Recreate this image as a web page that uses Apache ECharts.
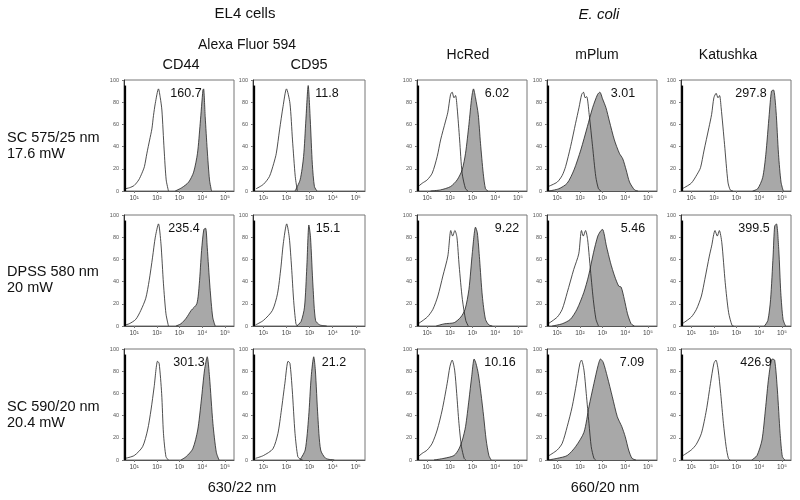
<!DOCTYPE html>
<html><head><meta charset="utf-8">
<script src="https://cdn.jsdelivr.net/npm/echarts@6/dist/echarts.min.js"></script>
<style>html,body{margin:0;padding:0;background:#fff}#c{width:800px;height:500px}</style>
</head><body><div id="c"></div>
<script>
// ---------- labels ----------
const groupTitles = ['EL4 cells', 'E. coli'];
const subTitle = 'Alexa Fluor 594';
const colLabels = ['CD44', 'CD95', 'HcRed', 'mPlum', 'Katushka'];
const rowLabels = [['SC 575/25 nm', '17.6 mW'], ['DPSS 580 nm', '20 mW'], ['SC 590/20 nm', '20.4 mW']];
const bottomLabels = ['630/22 nm', '660/20 nm'];
const mfiLabels = [
  ['160.7', '11.8', '6.02', '3.01', '297.8'],
  ['235.4', '15.1', '9.22', '5.46', '399.5'],
  ['301.3', '21.2', '10.16', '7.09', '426.9']
];
const xTickExponents = [1, 2, 3, 4, 5];
const yTickValues = [0, 20, 40, 60, 80, 100];
const pileHeight = 95; // events piled on the first channel

// ---------- histograms: [log10 intensity, % of max] ----------
// row 1: SC 575/25 nm
const open_r1_CD44 = [[0.6,2],[0.8,3],[1.0,5],[1.2,10],[1.34,16],[1.45,22],[1.56,34],[1.68,46],[1.78,56],[1.85,68],[1.93,79],[2.07,92],[2.15,84],[2.22,73],[2.32,37],[2.41,10],[2.51,0]];
const fill_r1_CD44 = [[2.81,0],[3.1,3],[3.4,8],[3.62,17],[3.79,34],[3.91,61],[4.03,91],[4.06,92],[4.13,67],[4.22,37],[4.32,10],[4.41,0]];
const open_r1_CD95 = [[0.68,2],[1.0,6],[1.26,13],[1.45,25],[1.56,34],[1.7,55],[1.85,76],[2.0,92],[2.15,79],[2.26,46],[2.38,13],[2.47,0]];
const fill_r1_CD95 = [[2.37,0],[2.59,10],[2.74,31],[2.84,64],[2.94,95],[3.03,64],[3.12,24],[3.21,4],[3.32,0]];
const open_r1_HcRed = [[0.6,4],[0.78,7],[1.0,10],[1.22,16],[1.44,31],[1.59,46],[1.81,63],[1.91,71],[2.03,87],[2.1,89],[2.18,84],[2.25,86],[2.32,75],[2.43,46],[2.54,16],[2.69,2],[2.8,0]];
const fill_r1_HcRed = [[1.15,0],[1.59,1],[2.03,4],[2.32,10],[2.54,19],[2.69,34],[2.84,60],[2.96,84],[3.04,92],[3.13,84],[3.25,69],[3.35,43],[3.47,16],[3.57,2],[3.68,0]];
const open_r1_mPlum = [[0.6,4],[1.0,8],[1.22,14],[1.37,22],[1.59,40],[1.81,61],[1.96,75],[2.08,87],[2.16,89],[2.23,84],[2.3,85],[2.41,69],[2.56,40],[2.7,13],[2.82,2],[2.93,0]];
const fill_r1_mPlum = [[0.63,0],[1.07,2],[1.44,7],[1.74,19],[2.04,37],[2.33,58],[2.56,75],[2.78,87],[2.88,89],[3.0,83],[3.15,75],[3.3,63],[3.52,46],[3.74,34],[3.89,29],[4.04,19],[4.19,8],[4.41,1],[4.56,0]];
const open_r1_Katushka = [[0.6,2],[1.0,7],[1.26,15],[1.41,21],[1.56,36],[1.78,57],[1.9,69],[2.0,84],[2.1,88],[2.18,84],[2.25,86],[2.32,75],[2.47,42],[2.62,8],[2.72,1],[2.84,0]];
const fill_r1_Katushka = [[3.71,0],[3.93,2],[4.15,12],[4.29,33],[4.44,69],[4.54,90],[4.63,91],[4.74,72],[4.85,33],[4.96,8],[5.06,0]];
// row 2: DPSS 580 nm
const open_r2_CD44 = [[0.6,1],[0.78,2],[1.07,6],[1.29,14],[1.51,25],[1.66,41],[1.81,62],[1.93,80],[2.07,92],[2.18,74],[2.29,38],[2.4,11],[2.51,0]];
const fill_r2_CD44 = [[2.84,0],[3.06,2],[3.29,7],[3.51,14],[3.76,20],[3.87,38],[3.97,68],[4.07,87],[4.15,88],[4.22,71],[4.34,35],[4.46,8],[4.57,0]];
const open_r2_CD95 = [[0.66,1],[1.0,5],[1.39,14],[1.61,29],[1.76,53],[1.86,74],[2.01,92],[2.12,80],[2.22,53],[2.31,23],[2.41,2],[2.48,0]];
const fill_r2_CD95 = [[2.44,0],[2.63,4],[2.78,17],[2.88,53],[2.97,91],[3.04,80],[3.15,35],[3.26,5],[3.44,1],[3.74,0]];
const open_r2_HcRed = [[0.6,2],[1.0,8],[1.25,15],[1.47,27],[1.69,45],[1.91,63],[2.04,86],[2.12,81],[2.22,86],[2.31,80],[2.41,54],[2.55,24],[2.7,5],[2.81,0]];
const fill_r2_HcRed = [[1.4,0],[1.76,2],[2.19,3],[2.48,8],[2.67,15],[2.84,33],[2.99,66],[3.13,89],[3.21,84],[3.31,60],[3.43,27],[3.57,6],[3.72,1],[3.87,0]];
const open_r2_mPlum = [[0.6,2],[1.0,8],[1.22,15],[1.44,30],[1.73,51],[1.95,65],[2.07,86],[2.15,81],[2.25,86],[2.34,78],[2.45,54],[2.59,24],[2.71,6],[2.82,0]];
const fill_r2_mPlum = [[0.78,0],[1.22,2],[1.58,6],[1.87,15],[2.17,30],[2.38,45],[2.6,66],[2.79,81],[2.93,86],[3.0,87],[3.17,72],[3.35,57],[3.53,45],[3.71,36],[3.82,35],[3.96,24],[4.1,11],[4.26,2],[4.4,0]];
const open_r2_Katushka = [[0.6,2],[1.0,8],[1.23,15],[1.45,27],[1.6,42],[1.8,63],[1.9,72],[2.05,86],[2.15,81],[2.24,86],[2.35,75],[2.5,39],[2.65,12],[2.8,0.5],[2.87,0]];
const fill_r2_Katushka = [[4.23,0],[4.38,5],[4.5,24],[4.61,63],[4.68,90],[4.76,92],[4.86,69],[4.95,30],[5.05,6],[5.16,0]];
// row 3: SC 590/20 nm
const open_r3_CD44 = [[0.6,1.5],[1.0,4],[1.37,12],[1.59,27],[1.74,45],[1.88,66],[2.03,89],[2.1,87],[2.21,60],[2.29,24],[2.4,3],[2.51,0]];
const fill_r3_CD44 = [[3.06,0],[3.29,3],[3.58,10],[3.8,27],[3.96,54],[4.1,81],[4.22,93],[4.32,75],[4.47,33],[4.62,7],[4.74,0]];
const open_r3_CD95 = [[0.66,1.5],[1.0,4],[1.41,10],[1.63,24],[1.78,45],[1.93,69],[2.07,89],[2.15,87],[2.25,63],[2.37,24],[2.49,3],[2.59,1],[2.7,0]];
const fill_r3_CD95 = [[2.58,0],[2.81,9],[2.96,39],[3.07,75],[3.18,93],[3.25,81],[3.36,39],[3.48,9],[3.7,1.5],[4.07,0]];
const open_r3_HcRed = [[0.6,3],[0.78,6],[1.0,9],[1.22,15],[1.44,27],[1.66,45],[1.88,69],[2.0,84],[2.1,90],[2.21,81],[2.3,60],[2.4,33],[2.51,12],[2.63,1.5],[2.7,0]];
const fill_r3_HcRed = [[1.3,0],[1.74,1.5],[2.18,4],[2.4,10],[2.55,18],[2.69,30],[2.84,54],[2.96,75],[3.07,91],[3.15,87],[3.25,78],[3.37,60],[3.49,39],[3.6,18],[3.72,4],[3.82,0]];
const open_r3_mPlum = [[0.6,3.5],[1.0,9],[1.22,15],[1.44,30],[1.66,48],[1.85,69],[2.0,87],[2.07,90],[2.18,81],[2.28,60],[2.4,33],[2.5,12],[2.62,1.5],[2.7,0]];
const fill_r3_mPlum = [[0.6,0],[1.0,1.5],[1.44,4],[1.81,12],[2.18,25],[2.4,48],[2.62,69],[2.8,85],[2.91,91],[3.03,88],[3.21,75],[3.43,57],[3.65,39],[3.85,30],[4.0,21],[4.15,9],[4.3,1.5],[4.47,0]];
const open_r3_Katushka = [[0.6,3.5],[1.0,9],[1.22,14],[1.45,24],[1.67,45],[1.85,69],[2.0,87],[2.09,90],[2.19,81],[2.3,60],[2.42,33],[2.54,12],[2.64,1.5],[2.72,0]];
const fill_r3_Katushka = [[3.67,0],[3.9,4],[4.12,18],[4.27,45],[4.42,75],[4.57,91],[4.68,90],[4.8,63],[4.92,24],[5.02,3],[5.13,0]];

const openCurves = [
  [open_r1_CD44, open_r1_CD95, open_r1_HcRed, open_r1_mPlum, open_r1_Katushka],
  [open_r2_CD44, open_r2_CD95, open_r2_HcRed, open_r2_mPlum, open_r2_Katushka],
  [open_r3_CD44, open_r3_CD95, open_r3_HcRed, open_r3_mPlum, open_r3_Katushka]
];
const filledCurves = [
  [fill_r1_CD44, fill_r1_CD95, fill_r1_HcRed, fill_r1_mPlum, fill_r1_Katushka],
  [fill_r2_CD44, fill_r2_CD95, fill_r2_HcRed, fill_r2_mPlum, fill_r2_Katushka],
  [fill_r3_CD44, fill_r3_CD95, fill_r3_HcRed, fill_r3_mPlum, fill_r3_Katushka]
];

// ---------- layout ----------
const colLeft = [124, 253, 417, 547, 681];
const colWidth = [110, 112, 110, 110, 110];
const rowTop = [80, 215, 349];
const panelHeight = 111;
const mfiOffsetX = [[62, 74, 80, 76, 70], [60, 75, 90, 86, 73], [65, 81, 83, 85, 75]];
const FONT = '"Liberation Sans", Arial, sans-serif';
const sup = {1: '\u00b9', 2: '\u00b2', 3: '\u00b3', 4: '\u2074', 5: '\u2075'};

const grids = [], xAxes = [], yAxes = [], series = [], graphics = [];
let gi = 0;
for (let r = 0; r < 3; r++) {
  for (let c = 0; c < 5; c++) {
    grids.push({left: colLeft[c], top: rowTop[r], width: colWidth[c], height: panelHeight,
      show: true, borderColor: '#777', borderWidth: 1, backgroundColor: 'transparent'});
    xAxes.push({type: 'value', gridIndex: gi, min: 0.55, max: 5.4,
      axisLine: {show: true, onZero: false, lineStyle: {color: '#555', width: 1}},
      axisTick: {show: true, customValues: xTickExponents, length: 2, lineStyle: {color: '#777'}},
      axisLabel: {customValues: xTickExponents, fontSize: 6.5, color: '#444', margin: 4, fontFamily: FONT,
        formatter: v => '10' + sup[Math.round(v)]},
      splitLine: {show: false}});
    yAxes.push({type: 'value', gridIndex: gi, min: 0, max: 100, interval: 20,
      axisLine: {show: true, lineStyle: {color: '#333', width: 1}},
      axisTick: {show: true, length: 2, lineStyle: {color: '#777'}},
      axisLabel: {fontSize: 5.5, color: '#555', margin: 5, fontFamily: FONT},
      splitLine: {show: false}});
    series.push({type: 'line', xAxisIndex: gi, yAxisIndex: gi, data: filledCurves[r][c],
      smooth: 0.25, symbol: 'none', silent: true, z: 2,
      lineStyle: {color: '#222', width: 0.8},
      areaStyle: {color: '#a8a8a8', opacity: 1}});
    series.push({type: 'line', xAxisIndex: gi, yAxisIndex: gi, data: openCurves[r][c],
      smooth: 0.25, symbol: 'none', silent: true, z: 3,
      lineStyle: {color: '#222', width: 0.8}});
    series.push({type: 'line', xAxisIndex: gi, yAxisIndex: gi, data: [[0.6, 0], [0.6, pileHeight]],
      symbol: 'none', silent: true, z: 4, lineStyle: {color: '#000', width: 2}});
    graphics.push({type: 'text', z: 10, style: {text: mfiLabels[r][c], x: colLeft[c] + mfiOffsetX[r][c],
      y: rowTop[r] + 14, textAlign: 'center', textVerticalAlign: 'middle',
      font: '12.5px ' + FONT, fill: '#111'}});
    gi++;
  }
}

// titles
const T = (text, x, y, size, extra) => graphics.push({type: 'text', style: Object.assign({text, x, y,
  textAlign: 'center', textVerticalAlign: 'middle', font: size + 'px ' + FONT, fill: '#111'}, extra || {})});
T(groupTitles[0], 245, 14, 15);
graphics.push({type: 'text', style: {text: groupTitles[1], x: 599, y: 15, textAlign: 'center',
  textVerticalAlign: 'middle', font: 'italic 15px ' + FONT, fill: '#111'}});
T(subTitle, 247, 45, 14);
T(colLabels[0], 181, 65, 14.5);
T(colLabels[1], 309, 65, 14.5);
T(colLabels[2], 468, 55, 14);
T(colLabels[3], 597, 55, 14);
T(colLabels[4], 728, 55, 14);
T(bottomLabels[0], 242, 488, 14.5);
T(bottomLabels[1], 605, 488, 14.5);
const rowLabelY = [138, 272, 407];
for (let r = 0; r < 3; r++) {
  graphics.push({type: 'text', style: {text: rowLabels[r][0] + '\n' + rowLabels[r][1], x: 7, y: rowLabelY[r] - 8,
    textAlign: 'left', textVerticalAlign: 'top', font: '14.5px ' + FONT, lineHeight: 16, fill: '#111'}});
}

const chart = echarts.init(document.getElementById('c'), null, {renderer: 'canvas'});
chart.setOption({animation: false, backgroundColor: '#fff', grid: grids, xAxis: xAxes, yAxis: yAxes,
  series: series, graphic: graphics});
</script></body></html>
